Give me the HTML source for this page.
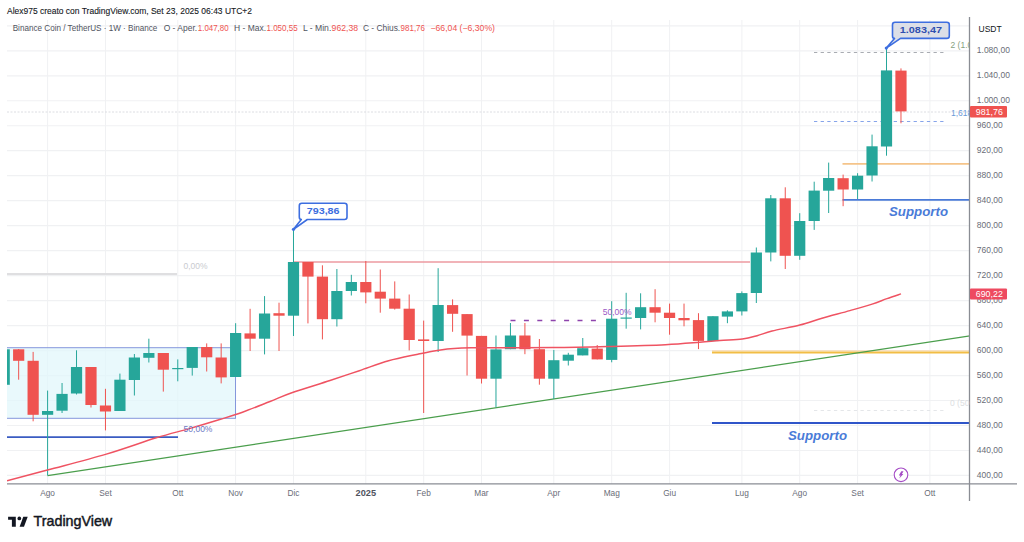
<!DOCTYPE html>
<html><head><meta charset="utf-8"><style>
html,body{margin:0;padding:0;background:#fff;}
body{width:1024px;height:542px;overflow:hidden;position:relative;font-family:"Liberation Sans", sans-serif;}
svg{position:absolute;left:0;top:0;}
</style></head><body>
<svg width="1024" height="542" viewBox="0 0 1024 542" font-family='"Liberation Sans", sans-serif'>
<defs><clipPath id="plot"><rect x="7" y="0" width="962.8" height="484"/></clipPath></defs>
<line x1="7" y1="25.82" x2="969" y2="25.82" stroke="#f0f1f3" stroke-width="1.2"/><line x1="7" y1="50.80" x2="969" y2="50.80" stroke="#f0f1f3" stroke-width="1.2"/><line x1="7" y1="75.78" x2="969" y2="75.78" stroke="#f0f1f3" stroke-width="1.2"/><line x1="7" y1="100.76" x2="969" y2="100.76" stroke="#f0f1f3" stroke-width="1.2"/><line x1="7" y1="125.74" x2="969" y2="125.74" stroke="#f0f1f3" stroke-width="1.2"/><line x1="7" y1="150.72" x2="969" y2="150.72" stroke="#f0f1f3" stroke-width="1.2"/><line x1="7" y1="175.70" x2="969" y2="175.70" stroke="#f0f1f3" stroke-width="1.2"/><line x1="7" y1="200.68" x2="969" y2="200.68" stroke="#f0f1f3" stroke-width="1.2"/><line x1="7" y1="225.66" x2="969" y2="225.66" stroke="#f0f1f3" stroke-width="1.2"/><line x1="7" y1="250.64" x2="969" y2="250.64" stroke="#f0f1f3" stroke-width="1.2"/><line x1="7" y1="275.62" x2="969" y2="275.62" stroke="#f0f1f3" stroke-width="1.2"/><line x1="7" y1="300.60" x2="969" y2="300.60" stroke="#f0f1f3" stroke-width="1.2"/><line x1="7" y1="325.58" x2="969" y2="325.58" stroke="#f0f1f3" stroke-width="1.2"/><line x1="7" y1="350.56" x2="969" y2="350.56" stroke="#f0f1f3" stroke-width="1.2"/><line x1="7" y1="375.54" x2="969" y2="375.54" stroke="#f0f1f3" stroke-width="1.2"/><line x1="7" y1="400.52" x2="969" y2="400.52" stroke="#f0f1f3" stroke-width="1.2"/><line x1="7" y1="425.50" x2="969" y2="425.50" stroke="#f0f1f3" stroke-width="1.2"/><line x1="7" y1="450.48" x2="969" y2="450.48" stroke="#f0f1f3" stroke-width="1.2"/><line x1="7" y1="475.46" x2="969" y2="475.46" stroke="#f0f1f3" stroke-width="1.2"/><line x1="47.6" y1="20" x2="47.6" y2="484" stroke="#f0f1f3" stroke-width="1"/><line x1="105.5" y1="20" x2="105.5" y2="484" stroke="#f0f1f3" stroke-width="1"/><line x1="177.8" y1="20" x2="177.8" y2="484" stroke="#f0f1f3" stroke-width="1"/><line x1="235.6" y1="20" x2="235.6" y2="484" stroke="#f0f1f3" stroke-width="1"/><line x1="293.5" y1="20" x2="293.5" y2="484" stroke="#f0f1f3" stroke-width="1"/><line x1="365.8" y1="20" x2="365.8" y2="484" stroke="#f0f1f3" stroke-width="1"/><line x1="423.7" y1="20" x2="423.7" y2="484" stroke="#f0f1f3" stroke-width="1"/><line x1="481.5" y1="20" x2="481.5" y2="484" stroke="#f0f1f3" stroke-width="1"/><line x1="553.8" y1="20" x2="553.8" y2="484" stroke="#f0f1f3" stroke-width="1"/><line x1="611.7" y1="20" x2="611.7" y2="484" stroke="#f0f1f3" stroke-width="1"/><line x1="669.6" y1="20" x2="669.6" y2="484" stroke="#f0f1f3" stroke-width="1"/><line x1="741.9" y1="20" x2="741.9" y2="484" stroke="#f0f1f3" stroke-width="1"/><line x1="799.7" y1="20" x2="799.7" y2="484" stroke="#f0f1f3" stroke-width="1"/><line x1="857.6" y1="20" x2="857.6" y2="484" stroke="#f0f1f3" stroke-width="1"/><line x1="929.9" y1="20" x2="929.9" y2="484" stroke="#f0f1f3" stroke-width="1"/>
<g clip-path="url(#plot)"><rect x="-10" y="347.7" width="245.5" height="70.6" fill="#e0f6fb" fill-opacity="0.7" stroke="#8597dc" stroke-width="1"/><line x1="7" y1="112" x2="969" y2="112" stroke="#dcdde2" stroke-width="1" stroke-dasharray="2 1.5"/><line x1="814" y1="52.5" x2="945" y2="52.5" stroke="#a9acb2" stroke-width="1.1" stroke-dasharray="3.3 3.34"/><line x1="814" y1="121.5" x2="945" y2="121.5" stroke="#86a4ea" stroke-width="1.1" stroke-dasharray="3.3 3.34"/><line x1="814" y1="410.5" x2="945" y2="410.5" stroke="#e4e6e9" stroke-width="1.1" stroke-dasharray="3.3 3.34"/><line x1="293" y1="262" x2="750" y2="262" stroke="#ec9aa1" stroke-width="1.7"/><line x1="510.5" y1="320.5" x2="597" y2="320.5" stroke="#8e44ad" stroke-width="1.5" stroke-dasharray="5 8.4"/><line x1="7" y1="437.1" x2="178" y2="437.1" stroke="#3a5cc2" stroke-width="1.6"/><line x1="712" y1="423" x2="970" y2="423" stroke="#2f55c9" stroke-width="2"/><line x1="842.5" y1="199.8" x2="970" y2="199.8" stroke="#4a7ad8" stroke-width="1.8"/><line x1="842.5" y1="163.8" x2="970" y2="163.8" stroke="#f5c48a" stroke-width="1.8"/><line x1="712" y1="350.8" x2="970" y2="350.8" stroke="#f8d9b0" stroke-width="1"/><line x1="712" y1="352.6" x2="970" y2="352.6" stroke="#f2bd45" stroke-width="2"/><line x1="47.6" y1="475.7" x2="970" y2="335.8" stroke="#4a9e4c" stroke-width="1.3"/><rect x="-1.39" y="349.3" width="11.2" height="35.50" fill="#26a69a"/><line x1="18.67" y1="349" x2="18.67" y2="379.7" stroke="#ef5350" stroke-width="1"/><rect x="13.07" y="349.3" width="11.2" height="11.50" fill="#ef5350"/><line x1="33.14" y1="351.9" x2="33.14" y2="421.3" stroke="#ef5350" stroke-width="1"/><rect x="27.54" y="360.8" width="11.2" height="54.00" fill="#ef5350"/><line x1="47.60" y1="390.6" x2="47.60" y2="475.5" stroke="#26a69a" stroke-width="1"/><rect x="42.00" y="411" width="11.2" height="3.80" fill="#26a69a"/><line x1="62.06" y1="383" x2="62.06" y2="413" stroke="#26a69a" stroke-width="1"/><rect x="56.46" y="393.9" width="11.2" height="16.80" fill="#26a69a"/><line x1="76.53" y1="350.3" x2="76.53" y2="394.5" stroke="#26a69a" stroke-width="1"/><rect x="70.93" y="367" width="11.2" height="26.50" fill="#26a69a"/><line x1="90.99" y1="367" x2="90.99" y2="407.5" stroke="#ef5350" stroke-width="1"/><rect x="85.39" y="367" width="11.2" height="38.00" fill="#ef5350"/><line x1="105.46" y1="388.8" x2="105.46" y2="430.4" stroke="#ef5350" stroke-width="1"/><rect x="99.86" y="405.5" width="11.2" height="6.00" fill="#ef5350"/><line x1="119.92" y1="373.6" x2="119.92" y2="411" stroke="#26a69a" stroke-width="1"/><rect x="114.32" y="379.7" width="11.2" height="31.30" fill="#26a69a"/><line x1="134.38" y1="354" x2="134.38" y2="395.5" stroke="#26a69a" stroke-width="1"/><rect x="128.78" y="357.5" width="11.2" height="22.50" fill="#26a69a"/><line x1="148.85" y1="338.7" x2="148.85" y2="362.5" stroke="#26a69a" stroke-width="1"/><rect x="143.25" y="353" width="11.2" height="4.80" fill="#26a69a"/><line x1="163.31" y1="353" x2="163.31" y2="391.6" stroke="#ef5350" stroke-width="1"/><rect x="157.71" y="353" width="11.2" height="16.70" fill="#ef5350"/><line x1="177.78" y1="359.4" x2="177.78" y2="381.3" stroke="#26a69a" stroke-width="1"/><rect x="172.18" y="368" width="11.2" height="1.20" fill="#26a69a"/><line x1="192.24" y1="347" x2="192.24" y2="375.6" stroke="#26a69a" stroke-width="1"/><rect x="186.64" y="347" width="11.2" height="20.90" fill="#26a69a"/><line x1="206.70" y1="343.4" x2="206.70" y2="371.5" stroke="#ef5350" stroke-width="1"/><rect x="201.10" y="347" width="11.2" height="10.30" fill="#ef5350"/><line x1="221.17" y1="343.4" x2="221.17" y2="383.4" stroke="#ef5350" stroke-width="1"/><rect x="215.57" y="357.5" width="11.2" height="19.90" fill="#ef5350"/><line x1="235.63" y1="323.2" x2="235.63" y2="377" stroke="#26a69a" stroke-width="1"/><rect x="230.03" y="333" width="11.2" height="44.00" fill="#26a69a"/><line x1="250.10" y1="308.8" x2="250.10" y2="351" stroke="#ef5350" stroke-width="1"/><rect x="244.50" y="333.4" width="11.2" height="5.30" fill="#ef5350"/><line x1="264.56" y1="296.1" x2="264.56" y2="354.4" stroke="#26a69a" stroke-width="1"/><rect x="258.96" y="313.5" width="11.2" height="25.20" fill="#26a69a"/><line x1="279.02" y1="302.7" x2="279.02" y2="351" stroke="#ef5350" stroke-width="1"/><rect x="273.42" y="313.2" width="11.2" height="2.50" fill="#ef5350"/><line x1="293.49" y1="229.2" x2="293.49" y2="336" stroke="#26a69a" stroke-width="1"/><rect x="287.89" y="262" width="11.2" height="53.70" fill="#26a69a"/><line x1="307.95" y1="262" x2="307.95" y2="323.4" stroke="#ef5350" stroke-width="1"/><rect x="302.35" y="262" width="11.2" height="14.60" fill="#ef5350"/><line x1="322.42" y1="265.3" x2="322.42" y2="339.4" stroke="#ef5350" stroke-width="1"/><rect x="316.82" y="276.6" width="11.2" height="42.60" fill="#ef5350"/><line x1="336.88" y1="269" x2="336.88" y2="326.5" stroke="#26a69a" stroke-width="1"/><rect x="331.28" y="291" width="11.2" height="28.20" fill="#26a69a"/><line x1="351.34" y1="274.8" x2="351.34" y2="295.5" stroke="#26a69a" stroke-width="1"/><rect x="345.74" y="282" width="11.2" height="9.00" fill="#26a69a"/><line x1="365.81" y1="261" x2="365.81" y2="303.3" stroke="#ef5350" stroke-width="1"/><rect x="360.21" y="282" width="11.2" height="10.40" fill="#ef5350"/><line x1="380.27" y1="269.5" x2="380.27" y2="312.7" stroke="#ef5350" stroke-width="1"/><rect x="374.67" y="291.7" width="11.2" height="6.90" fill="#ef5350"/><line x1="394.74" y1="281.4" x2="394.74" y2="309.6" stroke="#ef5350" stroke-width="1"/><rect x="389.14" y="298.6" width="11.2" height="10.10" fill="#ef5350"/><line x1="409.20" y1="294.5" x2="409.20" y2="350.4" stroke="#ef5350" stroke-width="1"/><rect x="403.60" y="308.7" width="11.2" height="31.30" fill="#ef5350"/><line x1="423.66" y1="320.6" x2="423.66" y2="413" stroke="#ef5350" stroke-width="1"/><rect x="418.06" y="339.4" width="11.2" height="1.60" fill="#ef5350"/><line x1="438.13" y1="268.2" x2="438.13" y2="352" stroke="#26a69a" stroke-width="1"/><rect x="432.53" y="305" width="11.2" height="36.00" fill="#26a69a"/><line x1="452.59" y1="299.4" x2="452.59" y2="331.8" stroke="#ef5350" stroke-width="1"/><rect x="446.99" y="305.1" width="11.2" height="8.70" fill="#ef5350"/><line x1="467.06" y1="314.1" x2="467.06" y2="375.5" stroke="#ef5350" stroke-width="1"/><rect x="461.46" y="314.1" width="11.2" height="21.50" fill="#ef5350"/><line x1="481.52" y1="335.9" x2="481.52" y2="383.5" stroke="#ef5350" stroke-width="1"/><rect x="475.92" y="335.9" width="11.2" height="42.80" fill="#ef5350"/><line x1="495.98" y1="335.5" x2="495.98" y2="407.4" stroke="#26a69a" stroke-width="1"/><rect x="490.38" y="349.4" width="11.2" height="29.30" fill="#26a69a"/><line x1="510.45" y1="323" x2="510.45" y2="349.2" stroke="#26a69a" stroke-width="1"/><rect x="504.85" y="335.5" width="11.2" height="13.70" fill="#26a69a"/><line x1="524.91" y1="323" x2="524.91" y2="354.2" stroke="#ef5350" stroke-width="1"/><rect x="519.31" y="335.5" width="11.2" height="13.70" fill="#ef5350"/><line x1="539.38" y1="339" x2="539.38" y2="384.7" stroke="#ef5350" stroke-width="1"/><rect x="533.78" y="349.2" width="11.2" height="29.50" fill="#ef5350"/><line x1="553.84" y1="350" x2="553.84" y2="399" stroke="#26a69a" stroke-width="1"/><rect x="548.24" y="360.2" width="11.2" height="18.50" fill="#26a69a"/><line x1="568.30" y1="352.8" x2="568.30" y2="365.5" stroke="#26a69a" stroke-width="1"/><rect x="562.70" y="354.7" width="11.2" height="6.00" fill="#26a69a"/><line x1="582.77" y1="338" x2="582.77" y2="355.4" stroke="#26a69a" stroke-width="1"/><rect x="577.17" y="348.2" width="11.2" height="7.20" fill="#26a69a"/><line x1="597.23" y1="345" x2="597.23" y2="359.4" stroke="#ef5350" stroke-width="1"/><rect x="591.63" y="348.6" width="11.2" height="10.80" fill="#ef5350"/><line x1="611.70" y1="301.2" x2="611.70" y2="362.3" stroke="#26a69a" stroke-width="1"/><rect x="606.10" y="318.7" width="11.2" height="41.20" fill="#26a69a"/><line x1="626.16" y1="292.8" x2="626.16" y2="328.7" stroke="#26a69a" stroke-width="1"/><rect x="620.56" y="317.5" width="11.2" height="1.20" fill="#26a69a"/><line x1="640.62" y1="293.3" x2="640.62" y2="329.4" stroke="#26a69a" stroke-width="1"/><rect x="635.02" y="307.2" width="11.2" height="10.80" fill="#26a69a"/><line x1="655.09" y1="289.2" x2="655.09" y2="322.3" stroke="#ef5350" stroke-width="1"/><rect x="649.49" y="307.2" width="11.2" height="5.50" fill="#ef5350"/><line x1="669.55" y1="303.6" x2="669.55" y2="334.7" stroke="#ef5350" stroke-width="1"/><rect x="663.95" y="312.7" width="11.2" height="5.30" fill="#ef5350"/><line x1="684.02" y1="303.6" x2="684.02" y2="326.3" stroke="#ef5350" stroke-width="1"/><rect x="678.42" y="318" width="11.2" height="2.30" fill="#ef5350"/><line x1="698.48" y1="313.2" x2="698.48" y2="349.1" stroke="#ef5350" stroke-width="1"/><rect x="692.88" y="320.1" width="11.2" height="20.80" fill="#ef5350"/><line x1="712.94" y1="316.2" x2="712.94" y2="341.1" stroke="#26a69a" stroke-width="1"/><rect x="707.34" y="316.2" width="11.2" height="24.90" fill="#26a69a"/><line x1="727.41" y1="310.3" x2="727.41" y2="323.2" stroke="#26a69a" stroke-width="1"/><rect x="721.81" y="311.4" width="11.2" height="5.20" fill="#26a69a"/><line x1="741.87" y1="291.4" x2="741.87" y2="315.5" stroke="#26a69a" stroke-width="1"/><rect x="736.27" y="293.1" width="11.2" height="18.30" fill="#26a69a"/><line x1="756.34" y1="247.5" x2="756.34" y2="303" stroke="#26a69a" stroke-width="1"/><rect x="750.74" y="252.5" width="11.2" height="40.50" fill="#26a69a"/><line x1="770.80" y1="195" x2="770.80" y2="261.4" stroke="#26a69a" stroke-width="1"/><rect x="765.20" y="198.3" width="11.2" height="54.20" fill="#26a69a"/><line x1="785.26" y1="187.3" x2="785.26" y2="269" stroke="#ef5350" stroke-width="1"/><rect x="779.66" y="198.3" width="11.2" height="57.50" fill="#ef5350"/><line x1="799.73" y1="213.2" x2="799.73" y2="259.8" stroke="#26a69a" stroke-width="1"/><rect x="794.13" y="221" width="11.2" height="34.80" fill="#26a69a"/><line x1="814.19" y1="181.7" x2="814.19" y2="229.9" stroke="#26a69a" stroke-width="1"/><rect x="808.59" y="190.6" width="11.2" height="30.40" fill="#26a69a"/><line x1="828.66" y1="162.6" x2="828.66" y2="213" stroke="#26a69a" stroke-width="1"/><rect x="823.06" y="178" width="11.2" height="12.70" fill="#26a69a"/><line x1="843.12" y1="174.6" x2="843.12" y2="206.2" stroke="#ef5350" stroke-width="1"/><rect x="837.52" y="178.2" width="11.2" height="11.30" fill="#ef5350"/><line x1="857.58" y1="173.2" x2="857.58" y2="199" stroke="#26a69a" stroke-width="1"/><rect x="851.98" y="175.7" width="11.2" height="13.80" fill="#26a69a"/><line x1="872.05" y1="134.6" x2="872.05" y2="181.5" stroke="#26a69a" stroke-width="1"/><rect x="866.45" y="146.3" width="11.2" height="29.20" fill="#26a69a"/><line x1="886.51" y1="48.2" x2="886.51" y2="155.7" stroke="#26a69a" stroke-width="1"/><rect x="880.91" y="70.4" width="11.2" height="76.10" fill="#26a69a"/><line x1="900.98" y1="68.4" x2="900.98" y2="123.3" stroke="#ef5350" stroke-width="1"/><rect x="895.38" y="70.6" width="11.2" height="40.80" fill="#ef5350"/><path d="M7,480.8 C13.75,479.00 31.08,474.40 47.5,470 C63.92,465.60 87.37,459.77 105.5,454.4 C123.63,449.03 142.32,442.10 156.3,437.8 C170.28,433.50 178.83,431.65 189.4,428.6 C199.97,425.55 210.85,422.23 219.7,419.5 C228.55,416.77 234.12,415.20 242.5,412.2 C250.88,409.20 261.67,404.78 270,401.5 C278.33,398.22 282.50,396.00 292.5,392.5 C302.50,389.00 318.87,384.13 330,380.5 C341.13,376.87 349.53,373.98 359.3,370.7 C369.07,367.42 378.83,363.55 388.6,360.8 C398.37,358.05 410.58,355.80 417.9,354.2 C425.22,352.60 427.62,352.07 432.5,351.2 C437.38,350.33 442.32,349.53 447.2,349 C452.08,348.47 456.33,348.20 461.8,348 C467.27,347.80 464.80,347.87 480,347.8 C495.20,347.73 531.03,347.83 553,347.6 C574.97,347.37 593.05,346.88 611.8,346.4 C630.55,345.92 650.85,345.38 665.5,344.7 C680.15,344.02 690.62,343.00 699.7,342.3 C708.78,341.60 712.90,341.05 720,340.5 C727.10,339.95 736.12,339.80 742.3,339 C748.48,338.20 752.15,337.03 757.1,335.7 C762.05,334.37 764.88,332.77 772,331 C779.12,329.23 791.47,327.22 799.8,325.1 C808.13,322.98 813.65,320.72 822,318.3 C830.35,315.88 841.55,312.97 849.9,310.6 C858.25,308.23 865.92,306.10 872.1,304.1 C878.28,302.10 882.18,300.30 887,298.6 C891.82,296.90 898.67,294.68 901,293.9" fill="none" stroke="#ef5362" stroke-width="1.5" stroke-linejoin="round"/></g>
<line x1="7" y1="483.8" x2="1017" y2="483.8" stroke="#8a8d94" stroke-width="1.3"/><line x1="969.5" y1="17" x2="969.5" y2="501" stroke="#8a8d94" stroke-width="1.3"/><text x="976.8" y="52.9" font-size="8.5" fill="#6a6d78">1.080,00</text><text x="976.8" y="77.9" font-size="8.5" fill="#6a6d78">1.040,00</text><text x="976.8" y="102.9" font-size="8.5" fill="#6a6d78">1.000,00</text><text x="976.8" y="127.9" font-size="8.5" fill="#6a6d78">960,00</text><text x="976.8" y="152.9" font-size="8.5" fill="#6a6d78">920,00</text><text x="976.8" y="177.9" font-size="8.5" fill="#6a6d78">880,00</text><text x="976.8" y="202.9" font-size="8.5" fill="#6a6d78">840,00</text><text x="976.8" y="227.9" font-size="8.5" fill="#6a6d78">800,00</text><text x="976.8" y="252.9" font-size="8.5" fill="#6a6d78">760,00</text><text x="976.8" y="277.9" font-size="8.5" fill="#6a6d78">720,00</text><text x="976.8" y="302.9" font-size="8.5" fill="#6a6d78">680,00</text><text x="976.8" y="327.9" font-size="8.5" fill="#6a6d78">640,00</text><text x="976.8" y="352.9" font-size="8.5" fill="#6a6d78">600,00</text><text x="976.8" y="377.9" font-size="8.5" fill="#6a6d78">560,00</text><text x="976.8" y="402.9" font-size="8.5" fill="#6a6d78">520,00</text><text x="976.8" y="427.9" font-size="8.5" fill="#6a6d78">480,00</text><text x="976.8" y="452.9" font-size="8.5" fill="#6a6d78">440,00</text><text x="976.8" y="477.9" font-size="8.5" fill="#6a6d78">400,00</text><text x="978.5" y="32" font-size="8.5" fill="#131722">USDT</text><rect x="970" y="106" width="37" height="11.6" fill="#ef5350" rx="1"/><text x="975.8" y="114.9" font-size="8.8" fill="#fff" textLength="27" lengthAdjust="spacingAndGlyphs">981,76</text><rect x="970" y="288.5" width="37" height="11.1" fill="#ee4a60" rx="1"/><text x="975.8" y="297" font-size="8.8" fill="#fff" textLength="27" lengthAdjust="spacingAndGlyphs">690,22</text><text x="47.6" y="495.9" font-size="8.3" font-weight="normal" fill="#6a6d78" text-anchor="middle">Ago</text><text x="105.5" y="495.9" font-size="8.3" font-weight="normal" fill="#6a6d78" text-anchor="middle">Set</text><text x="177.8" y="495.9" font-size="8.3" font-weight="normal" fill="#6a6d78" text-anchor="middle">Ott</text><text x="235.6" y="495.9" font-size="8.3" font-weight="normal" fill="#6a6d78" text-anchor="middle">Nov</text><text x="293.5" y="495.9" font-size="8.3" font-weight="normal" fill="#6a6d78" text-anchor="middle">Dic</text><text x="365.8" y="495.9" font-size="9.2" font-weight="bold" fill="#50535e" text-anchor="middle">2025</text><text x="423.7" y="495.9" font-size="8.3" font-weight="normal" fill="#6a6d78" text-anchor="middle">Feb</text><text x="481.5" y="495.9" font-size="8.3" font-weight="normal" fill="#6a6d78" text-anchor="middle">Mar</text><text x="553.8" y="495.9" font-size="8.3" font-weight="normal" fill="#6a6d78" text-anchor="middle">Apr</text><text x="611.7" y="495.9" font-size="8.3" font-weight="normal" fill="#6a6d78" text-anchor="middle">Mag</text><text x="669.6" y="495.9" font-size="8.3" font-weight="normal" fill="#6a6d78" text-anchor="middle">Giu</text><text x="741.9" y="495.9" font-size="8.3" font-weight="normal" fill="#6a6d78" text-anchor="middle">Lug</text><text x="799.7" y="495.9" font-size="8.3" font-weight="normal" fill="#6a6d78" text-anchor="middle">Ago</text><text x="857.6" y="495.9" font-size="8.3" font-weight="normal" fill="#6a6d78" text-anchor="middle">Set</text><text x="929.9" y="495.9" font-size="8.3" font-weight="normal" fill="#6a6d78" text-anchor="middle">Ott</text><line x1="7" y1="273.9" x2="177" y2="273.9" stroke="#dfdfe1" stroke-width="2"/><text x="183.5" y="269" font-size="8.5" fill="#c9cbcf">0,00%</text><text x="183.6" y="432.3" font-size="8.5" fill="#6b78c4">50,00%</text><text x="602.8" y="315.3" font-size="8.5" fill="#9b59c6">50,00%</text><g clip-path="url(#plot)"><text x="950.5" y="47.6" font-size="8.5" fill="#86a07e">2 (1.0</text><text x="951" y="115.8" font-size="8.5" fill="#6a9ad8">1,618</text><text x="950" y="406.2" font-size="8.5" fill="#dcdee1">0 (50</text></g><text x="889" y="215.6" font-size="13" font-weight="bold" font-style="italic" fill="#4a7bd8" textLength="59" lengthAdjust="spacingAndGlyphs">Supporto</text><text x="788" y="439.7" font-size="13" font-weight="bold" font-style="italic" fill="#4a7bd8" textLength="59" lengthAdjust="spacingAndGlyphs">Supporto</text><path d="M301.8,203.3 H344.5 Q347,203.3 347,205.8 V217.0 Q347,219.5 344.5,219.5 H307.3 L293.5,229.3 L301.3,219.5 Q299.3,219.5 299.3,217.0 V205.8 Q299.3,203.3 301.8,203.3 Z" fill="#fff" stroke="#3d6ee0" stroke-width="1.6" stroke-linejoin="round"/><circle cx="293.5" cy="229.3" r="1.6" fill="#3d6ee0"/><text x="323.15" y="213.8" font-size="9.5" font-weight="bold" fill="#3d6ee0" text-anchor="middle" textLength="32.8" lengthAdjust="spacingAndGlyphs">793,86</text><path d="M895.0,22.3 H946.8 Q949.3,22.3 949.3,24.8 V35.9 Q949.3,38.4 946.8,38.4 H900.5 L886.3,48.1 L894.5,38.4 Q892.5,38.4 892.5,35.9 V24.8 Q892.5,22.3 895.0,22.3 Z" fill="#dcdfe7" stroke="#3d6ee0" stroke-width="1.6" stroke-linejoin="round"/><circle cx="886.3" cy="48.1" r="1.6" fill="#3d6ee0"/><text x="920.9" y="32.699999999999996" font-size="9.5" font-weight="bold" fill="#2f4fb0" text-anchor="middle" textLength="42.2" lengthAdjust="spacingAndGlyphs">1.083,47</text><circle cx="901" cy="474.8" r="6.8" fill="#fff" stroke="#a54cc6" stroke-width="1.1"/><path d="M901.3,471.2 L903.5,471.2 L901.9,474.1 L903.4,474.1 L899.2,478.6 L900.5,475.6 L898.8,475.6 Z" fill="#a54cc6"/><text x="7" y="13.5" font-size="8.8" fill="#131722" stroke="#131722" stroke-width="0.1" textLength="245" lengthAdjust="spacingAndGlyphs">Alex975 creato con TradingView.com, Set 23, 2025 06:43 UTC+2</text><text x="12.7" y="31.2" font-size="8.8" fill="#50535e" textLength="144.7" lengthAdjust="spacingAndGlyphs">Binance Coin / TetherUS · 1W · Binance</text><text x="163.7" y="31.2" font-size="8.8" fill="#50535e" textLength="33.4" lengthAdjust="spacingAndGlyphs">O - Aper.</text><text x="197.8" y="31.2" font-size="8.8" fill="#ef5350" textLength="30.8" lengthAdjust="spacingAndGlyphs">1.047,80</text><text x="234" y="31.2" font-size="8.8" fill="#50535e" textLength="32.0" lengthAdjust="spacingAndGlyphs">H - Max.</text><text x="266.5" y="31.2" font-size="8.8" fill="#ef5350" textLength="31.1" lengthAdjust="spacingAndGlyphs">1.050,55</text><text x="302.9" y="31.2" font-size="8.8" fill="#50535e" textLength="28.4" lengthAdjust="spacingAndGlyphs">L - Min.</text><text x="331.6" y="31.2" font-size="8.8" fill="#ef5350" textLength="26.4" lengthAdjust="spacingAndGlyphs">962,38</text><text x="362.9" y="31.2" font-size="8.8" fill="#50535e" textLength="37.3" lengthAdjust="spacingAndGlyphs">C - Chius.</text><text x="400.6" y="31.2" font-size="8.8" fill="#ef5350" textLength="24.4" lengthAdjust="spacingAndGlyphs">981,76</text><text x="430.5" y="31.2" font-size="8.8" fill="#ef5350" textLength="64.5" lengthAdjust="spacingAndGlyphs">−66,04 (−6,30%)</text><path d="M8.1,516.7 H15.8 V526.7 H11.9 V519.8 H8.1 Z" fill="#131722"/><circle cx="19.3" cy="518.4" r="1.85" fill="#131722"/><path d="M23.3,516.7 H27.7 L24,526.7 H19.6 Z" fill="#131722"/><text x="33.6" y="526.2" font-size="14.2" fill="#131722" stroke="#131722" stroke-width="0.45" textLength="78.6" lengthAdjust="spacingAndGlyphs">TradingView</text>
</svg>
</body></html>
